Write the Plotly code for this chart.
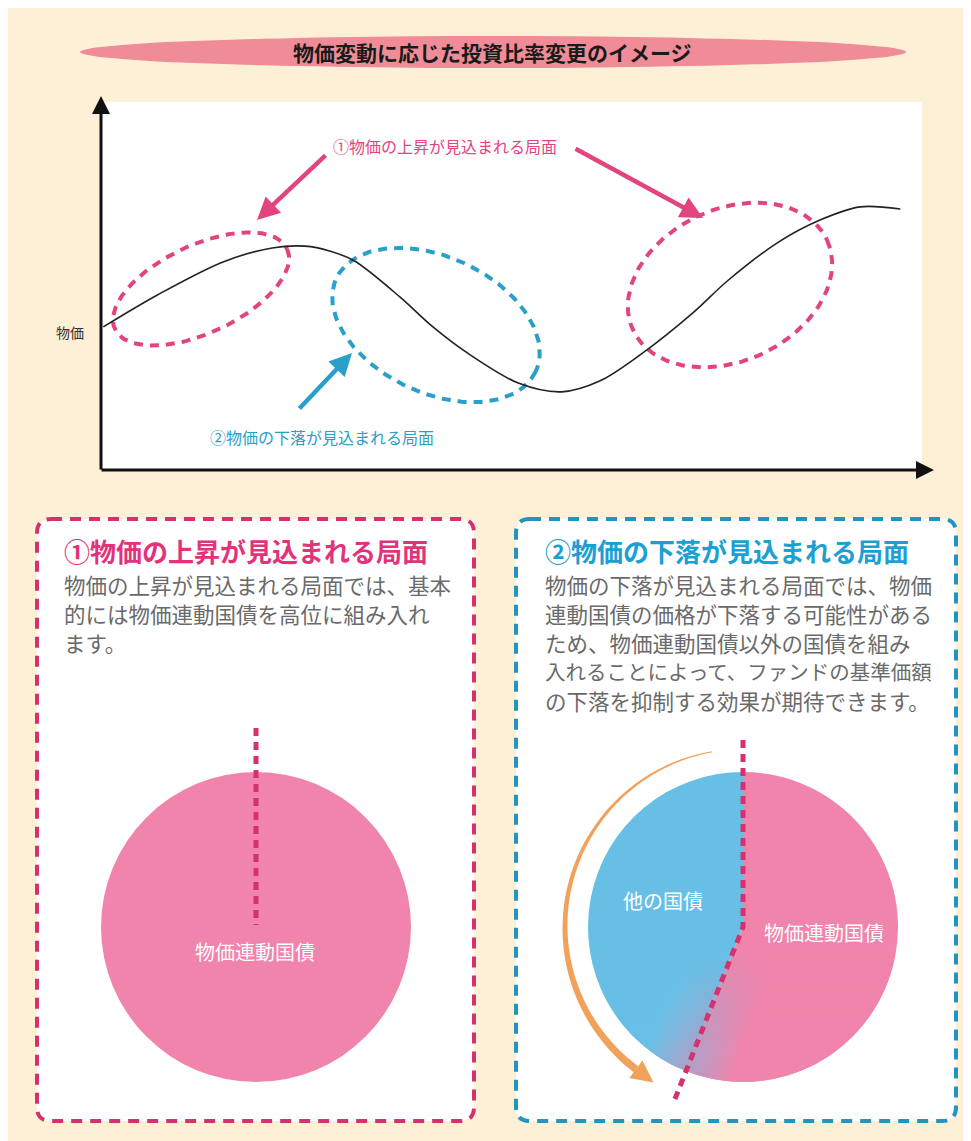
import base64
import numpy as np
import plotly.graph_objects as go

W, H = 971, 1141
OFF = 8  # page body margin in the photographed window
FONT = "Noto Sans CJK JP, Noto Sans CJK SC, sans-serif"

# ---------------- data ----------------
time_pts = [0.4, 7, 15, 21, 25, 28, 31, 36.6, 40.6, 44.8, 51, 56.3, 61, 66.2, 72.3, 76.5, 82.6, 87.8, 92.7, 97.6]
price_pts = [39, 47.7, 56.7, 60.5, 61, 59.7, 57, 47.1, 39, 31.9, 23.7, 21.3, 24.3, 31.9, 42.8, 51.5, 61.9, 68.1, 71.7, 71.1]

left_labels = ["物価連動国債"]
left_values = [100]
right_labels = ["物価連動国債", "他の国債"]
right_values = [56, 44]

title_text = "物価変動に応じた投資比率変更のイメージ"
y_label = "物価"
rise_label = "①物価の上昇が見込まれる局面"
fall_label = "②物価の下落が見込まれる局面"
left_heading = "①物価の上昇が見込まれる局面"
left_body = ["物価の上昇が見込まれる局面では、基本",
             "的には物価連動国債を高位に組み入れ",
             "ます。"]
right_heading = "②物価の下落が見込まれる局面"
right_body = ["物価の下落が見込まれる局面では、物価",
              "連動国債の価格が下落する可能性がある",
              "ため、物価連動国債以外の国債を組み",
              "入れることによって、ファンドの基準価額",
              "の下落を抑制する効果が期待できます。"]

# ---------------- colours ----------------
CREAM = "#FDF0D6"
PINK = "#E2447F"
PINK_DARK = "#D6306E"
BLUE = "#2A9FC9"
PIE_PINK = "#F084AC"
PIE_BLUE = "#68BFE6"
ORANGE = "#F0A25A"
GRAY = "#6A6A6A"

fig = go.Figure()

# ---------------- helpers (decoration geometry, screen pixels) ----------------
def ellipse(cx, cy, a, b, phi_deg, n=200):
    t = np.linspace(0, 2 * np.pi, n)
    p = np.radians(phi_deg)
    x = cx + a * np.cos(t) * np.cos(p) - b * np.sin(t) * np.sin(p)
    y = cy + a * np.cos(t) * np.sin(p) + b * np.sin(t) * np.cos(p)
    return x, y

def rrect(x0, y0, x1, y1, r):
    return (f"M{x0+r},{y0} L{x1-r},{y0} Q{x1},{y0} {x1},{y0+r} "
            f"L{x1},{y1-r} Q{x1},{y1} {x1-r},{y1} L{x0+r},{y1} "
            f"Q{x0},{y1} {x0},{y1-r} L{x0},{y0+r} Q{x0},{y0} {x0+r},{y0} Z")

def px_x(sx):  # screen x -> paper fraction
    return (sx - OFF) / W

def px_y(sy):  # screen y -> paper fraction
    return (H - (sy - OFF)) / H

shapes = []
# title ellipse
shapes.append(dict(type="circle", xref="x", yref="y", x0=80, x1=906, y0=36, y1=68,
                   fillcolor="#EF8C97", line=dict(width=0), layer="below"))
# chart white area
shapes.append(dict(type="rect", xref="x", yref="y", x0=101, x1=922, y0=102, y1=469,
                   fillcolor="white", line=dict(width=0), layer="below"))
# lower boxes
shapes.append(dict(type="path", xref="x", yref="y", path=rrect(37, 519, 474, 1121, 14),
                   fillcolor="white", line=dict(color=PINK_DARK, width=4, dash="11px,8px"),
                   layer="below"))
shapes.append(dict(type="path", xref="x", yref="y", path=rrect(516, 519, 956, 1121, 14),
                   fillcolor="white", line=dict(color="#2294BE", width=4, dash="11px,8px"),
                   layer="below"))

# ---------------- price curve ----------------
fig.add_trace(go.Scatter(x=time_pts, y=price_pts, xaxis="x2", yaxis="y2", mode="lines",
                         line=dict(color="#222222", width=1.6, shape="spline", smoothing=0.9),
                         hoverinfo="skip", showlegend=False))

# dashed ellipses
for (cx, cy, a, b, phi, col) in [(201, 289, 95, 44, -25, PINK),
                                 (436, 325, 110, 68, 25, BLUE),
                                 (730, 285, 107, 76, -25, PINK)]:
    ex, ey = ellipse(cx, cy, a, b, phi)
    fig.add_trace(go.Scatter(x=ex, y=ey, mode="lines",
                             line=dict(color=col, width=4, dash="9px,7px"),
                             hoverinfo="skip", showlegend=False))

# ---------------- pies ----------------
def dom(cx, cy, r):
    return dict(x=[px_x(cx - r), px_x(cx + r)], y=[px_y(cy + r), px_y(cy - r)])

LCX, LCY, RCX, RCY, PR = 256, 927, 743, 927, 155
fig.add_trace(go.Pie(labels=left_labels, values=left_values, domain=dom(LCX, LCY, PR),
                     marker=dict(colors=[PIE_PINK], line=dict(width=0)), textinfo="none",
                     sort=False, hoverinfo="skip", showlegend=False))
fig.add_trace(go.Pie(labels=right_labels, values=right_values, domain=dom(RCX, RCY, PR),
                     marker=dict(colors=[PIE_PINK, PIE_BLUE], line=dict(width=0)),
                     textinfo="none", sort=False, direction="counterclockwise",
                     hoverinfo="skip", showlegend=False))

# boundary angle of the "other bonds" slice (from 12 o'clock, counterclockwise)
ang = np.radians(90 + 360 * right_values[1] / sum(right_values))
dx, dy = np.cos(ang), -np.sin(ang)  # screen direction of lower boundary

# soft blue->pink blend along the lower boundary (image overlay)
S = 2 * PR
mx, my = PR + dx * 100, PR + dy * 100
perp = np.array([-dy, dx]) if (-dy) > 0 else np.array([dy, -dx])
g1 = (mx - perp[0] * 45, my - perp[1] * 45)
g2 = (mx + perp[0] * 45, my + perp[1] * 45)
svg = (f'<svg xmlns="http://www.w3.org/2000/svg" width="{S}" height="{S}" viewBox="0 0 {S} {S}">'
       f'<defs><clipPath id="c"><circle cx="{PR}" cy="{PR}" r="{PR}"/></clipPath>'
       f'<linearGradient id="g" gradientUnits="userSpaceOnUse" x1="{g1[0]:.1f}" y1="{g1[1]:.1f}" '
       f'x2="{g2[0]:.1f}" y2="{g2[1]:.1f}"><stop offset="0" stop-color="{PIE_BLUE}"/>'
       f'<stop offset="1" stop-color="{PIE_PINK}"/></linearGradient>'
       f'<linearGradient id="v" x1="0" y1="0" x2="0" y2="1">'
       f'<stop offset="0.58" stop-color="white" stop-opacity="0"/>'
       f'<stop offset="0.92" stop-color="white" stop-opacity="1"/></linearGradient>'
       f'<mask id="m"><rect width="{S}" height="{S}" fill="url(#v)"/></mask></defs>'
       f'<g mask="url(#m)"><rect width="{S}" height="{S}" fill="url(#g)" clip-path="url(#c)"/></g>'
       f'</svg>')
img_src = "data:image/svg+xml;base64," + base64.b64encode(svg.encode()).decode()
images = [dict(source=img_src, xref="paper", yref="paper", x=px_x(RCX - PR), y=px_y(RCY - PR),
               sizex=S / W, sizey=S / H, xanchor="left", yanchor="top", sizing="stretch",
               layer="above")]

# pie divider dashed lines (above pies)
shapes.append(dict(type="line", xref="x", yref="y", x0=LCX, x1=LCX, y0=728, y1=925,
                   line=dict(color=PINK_DARK, width=5, dash="8px,6px"), layer="above"))
bx, by = RCX + 190 * dx, RCY + 190 * dy
shapes.append(dict(type="path", xref="x", yref="y",
                   path=f"M{RCX},740 L{RCX},{RCY} L{bx:.1f},{by:.1f}",
                   line=dict(color=PINK_DARK, width=5, dash="8px,6px"), layer="above"))

# orange curved arrow
th = np.radians(np.linspace(100, 233, 80))
wdt = np.linspace(1.0, 7.5, 80) / 2
R = 178
ox_out = RCX + (R + wdt) * np.cos(th); oy_out = RCY - (R + wdt) * np.sin(th)
ox_in = RCX + (R - wdt) * np.cos(th); oy_in = RCY - (R - wdt) * np.sin(th)
pts = list(zip(ox_out, oy_out)) + list(zip(ox_in[::-1], oy_in[::-1]))
arc_path = "M" + " L".join(f"{px:.1f},{py:.1f}" for px, py in pts) + " Z"
shapes.append(dict(type="path", xref="x", yref="y", path=arc_path, fillcolor=ORANGE,
                   line=dict(width=0), layer="above"))
te = th[-1]
ex0, ey0 = RCX + R * np.cos(te), RCY - R * np.sin(te)
tx, ty = -np.sin(te), -np.cos(te)
nx, ny = -ty, tx
hw, hl = 11, 22
tri = (f"M{ex0 + nx*hw:.1f},{ey0 + ny*hw:.1f} L{ex0 + tx*hl:.1f},{ey0 + ty*hl:.1f} "
       f"L{ex0 - nx*hw:.1f},{ey0 - ny*hw:.1f} Z")
shapes.append(dict(type="path", xref="x", yref="y", path=tri, fillcolor=ORANGE,
                   line=dict(width=0), layer="above"))

# ---------------- annotations ----------------
ann = []
def text(x, y, s, size, color, bold=False, xanchor="center"):
    ann.append(dict(x=x, y=y, xref="x", yref="y", text=s, showarrow=False,
                    xanchor=xanchor, yanchor="middle",
                    font=dict(family=FONT, size=size, color=color,
                              weight="bold" if bold else "normal")))

def arrow(x, y, ax, ay, color, width, head=2, size=1.0):
    ann.append(dict(x=x, y=y, ax=ax, ay=ay, xref="x", yref="y", axref="x", ayref="y",
                    text="", showarrow=True, arrowhead=head, arrowsize=size,
                    arrowwidth=width, arrowcolor=color, standoff=0, startstandoff=0))

text(492, 52, title_text, 21, "#1A1A1A", bold=True)
arrow(101, 96, 101, 471, "#111111", 3, head=2, size=1.2)
arrow(934, 470, 100, 470, "#111111", 3, head=2, size=1.2)
text(70, 332, y_label, 14, "#333333")
text(445, 146, rise_label, 16, PINK)
text(322, 437, fall_label, 16, BLUE)
arrow(257, 220, 327, 154, PINK, 4.5, head=2, size=1.0)
arrow(703, 218, 574, 148, PINK, 4.5, head=2, size=1.0)
arrow(352, 353, 298, 410, BLUE, 4.5, head=2, size=1.0)

text(62, 550, left_heading, 26, "#E2337A", bold=True, xanchor="left")
for i, line in enumerate(left_body):
    text(62, 584 + 29 * i, line, 21.5, GRAY, xanchor="left")
text(543, 550, right_heading, 26, "#1C9FD3", bold=True, xanchor="left")
for i, line in enumerate(right_body):
    text(543, 584 + 29 * i, line, 20.5 if len(line) > 18 else 21.5, GRAY, xanchor="left")

text(255, 951, left_labels[0], 20, "white")
text(663, 900, right_labels[1], 20, "white")
text(824, 932, right_labels[0], 20, "white")

fig.update_layout(
    width=W, height=H, margin=dict(l=0, r=0, t=0, b=0),
    paper_bgcolor=CREAM, plot_bgcolor="rgba(0,0,0,0)",
    xaxis=dict(domain=[0, 1], range=[OFF, W + OFF], visible=False, fixedrange=True),
    yaxis=dict(domain=[0, 1], range=[H + OFF, OFF], visible=False, fixedrange=True),
    xaxis2=dict(domain=[px_x(100), px_x(920)], range=[0, 100], visible=False,
                fixedrange=True, anchor="y2"),
    yaxis2=dict(domain=[px_y(470), px_y(103)], range=[0, 100], visible=False,
                fixedrange=True, anchor="x2"),
    shapes=shapes, annotations=ann, images=images, showlegend=False,
)

fig.write_html("out.html")
